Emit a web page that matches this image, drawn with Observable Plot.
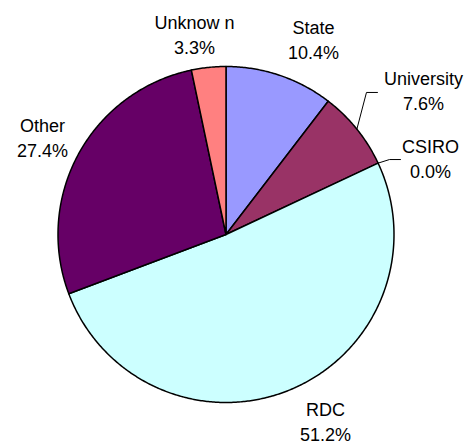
<!DOCTYPE html>
<html>
<head>
<meta charset="utf-8">
<script src="https://cdn.jsdelivr.net/npm/d3@7"></script>
<script src="https://cdn.jsdelivr.net/npm/@observablehq/plot@0.6"></script>
<style>
  html, body { margin: 0; padding: 0; background: #fff; }
  #chart svg { display: block; }
</style>
</head>
<body>
<div id="chart"></div>
<script>
// Funding source shares (%), clockwise from 12 o'clock
const categories = ["State", "University", "CSIRO", "RDC", "Other", "Unknow n"];
const shares = [10.4, 7.6, 0.0, 51.2, 27.4, 3.3];
const sliceColors = ["#9999FF", "#993366", "#FFFFCC", "#CCFFFF", "#660066", "#FF8080"];

// Layout: frame size, pie centre and radius (px)
const W = 468, H = 446;
const CX = 225.5, CY = 234, R = 168;

// Label placement: pixel offset of each label block from its slice's outer midpoint
const labelOffset = {
  "State": [33.6, -37.2],
  "University": [66.6, -40],
  "CSIRO": [52.4, -5.9],
  "RDC": [34.1, 31.2],
  "Other": [-36.2, -17.5],
  "Unknow n": [-14.1, -33.7]
};
// Leader lines: elbow and end points (px) relative to the slice's outer midpoint
const leaderBends = {
  "University": [[9.6, -36.7], [20.6, -36.7]],
  "CSIRO": [[11.4, -3.6], [22.4, -3.6]]
};

const data = categories.map((name, i) => ({name, value: shares[i]}));
const arcs = d3.pie().sort(null).value(d => d.value)(data);

// unit-circle helpers (angle measured clockwise from north, y up)
const px = a => Math.sin(a);
const py = a => Math.cos(a);

// slice outlines as closed polygons
const slicePts = [];
for (const a of arcs) {
  if (a.endAngle - a.startAngle <= 0) continue;
  const name = a.data.name;
  slicePts.push({name, x: 0, y: 0});
  const n = Math.max(2, Math.ceil((a.endAngle - a.startAngle) / (Math.PI / 360)));
  for (let k = 0; k <= n; ++k) {
    const t = a.startAngle + (a.endAngle - a.startAngle) * k / n;
    slicePts.push({name, x: px(t), y: py(t)});
  }
  slicePts.push({name, x: 0, y: 0});
}

// labels
const labels = arcs.map(a => {
  const mid = (a.startAngle + a.endAngle) / 2;
  const [ox, oy] = labelOffset[a.data.name];
  return {
    name: a.data.name,
    text: `${a.data.name}\n${a.data.value.toFixed(1)}%`,
    x: px(mid) + ox / R,
    y: py(mid) - oy / R
  };
});

// leader lines
const leaderPts = [];
for (const a of arcs) {
  const bends = leaderBends[a.data.name];
  if (!bends) continue;
  const mid = (a.startAngle + a.endAngle) / 2;
  const x0 = px(mid), y0 = py(mid);
  leaderPts.push({name: a.data.name, x: x0, y: y0});
  for (const [bx, by] of bends) leaderPts.push({name: a.data.name, x: x0 + bx / R, y: y0 - by / R});
}

const chart = Plot.plot({
  width: W,
  height: H,
  margin: 0,
  style: {background: "#fff", fontFamily: "'Liberation Sans', Arial, sans-serif"},
  x: {domain: [-1, 1], range: [CX - R, CX + R], axis: null},
  y: {domain: [-1, 1], range: [CY + R, CY - R], axis: null},
  color: {domain: categories, range: sliceColors},
  marks: [
    Plot.line(slicePts, {
      x: "x", y: "y", z: "name", fill: "name",
      stroke: "#000", strokeWidth: 1.5, strokeLinejoin: "round", curve: "linear"
    }),
    Plot.line(leaderPts, {x: "x", y: "y", z: "name", stroke: "#000", strokeWidth: 1}),
    Plot.text(labels, {
      x: "x", y: "y", text: "text",
      fontSize: 18, lineHeight: 1.4, fill: "#000",
      textAnchor: "middle", lineAnchor: "middle"
    })
  ]
});

document.getElementById("chart").appendChild(chart);
</script>
</body>
</html>
